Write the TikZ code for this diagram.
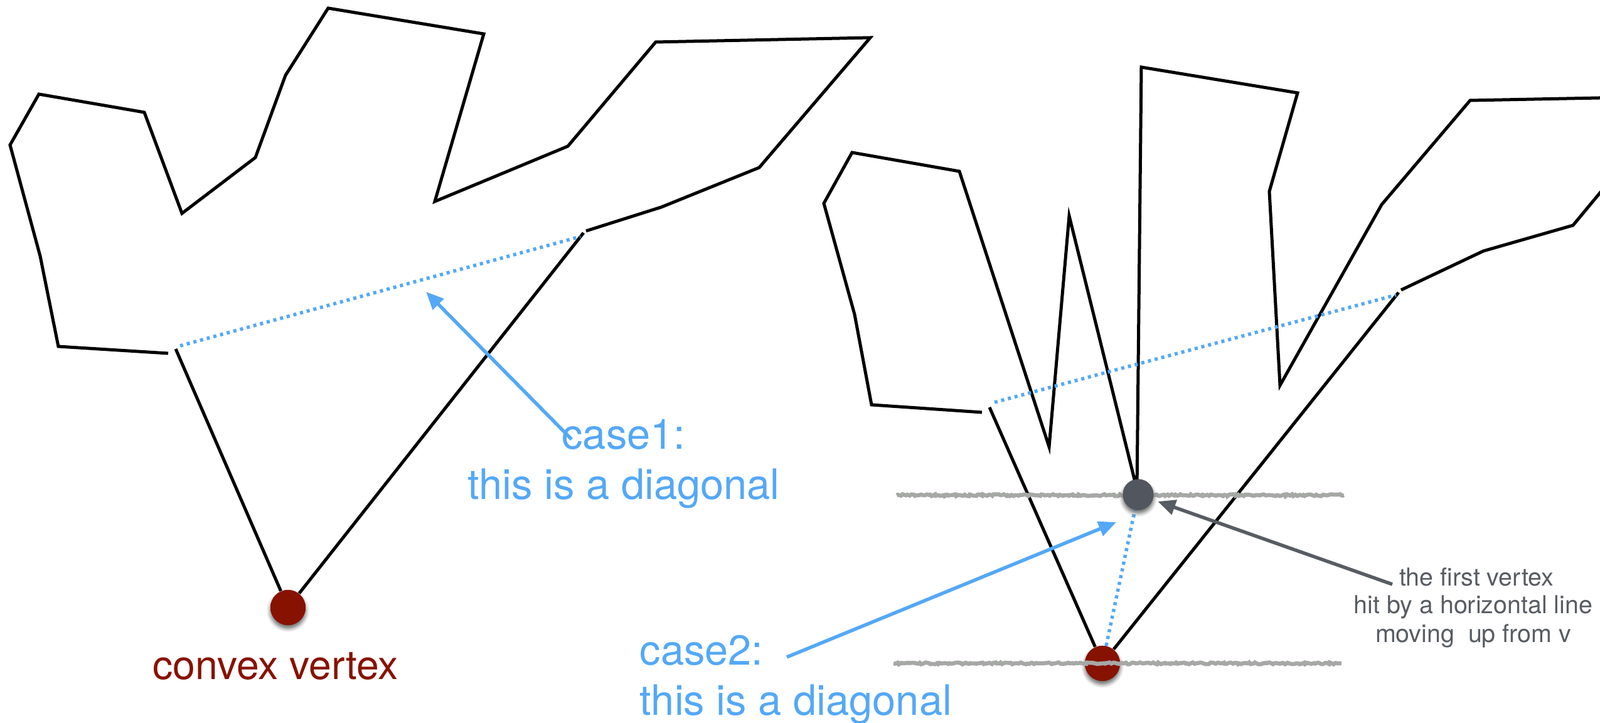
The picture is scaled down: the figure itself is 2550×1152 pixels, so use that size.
\documentclass[tikz,border=0pt]{standalone}
\usepackage{fontspec}
\setmainfont{TeX Gyre Heros}
\usetikzlibrary{arrows.meta,shadows.blur,decorations.pathmorphing}
\definecolor{diagblue}{RGB}{84,168,246}
\definecolor{vred}{RGB}{135,18,0}
\definecolor{vgrey}{RGB}{82,86,94}
\definecolor{hgrey}{RGB}{166,168,166}
\definecolor{tgrey}{RGB}{88,92,99}
\begin{document}
\begin{tikzpicture}[x=0.01cm,y=-0.01cm,
  poly/.style={line width=0.05cm, black, line join=miter},
  diag/.style={line width=0.055cm, diagblue, dash pattern=on 0.05cm off 0.06cm},
  vshadow/.style={blur shadow={shadow xshift=0cm, shadow yshift=-0.05cm, shadow blur radius=0.06cm, shadow opacity=35}},
  reddot/.style={circle, inner sep=0pt, minimum size=0.56cm, fill=vred, vshadow},
  greydot/.style={circle, inner sep=0pt, minimum size=0.49cm, fill=vgrey, vshadow},
  sweep/.style={line width=0.065cm, hgrey, decorate, decoration={random steps, segment length=0.03cm, amplitude=0.015cm}},
  barrow/.style={line width=0.055cm, diagblue, -{Triangle[length=0.28cm,width=0.24cm]}},
  garrow/.style={line width=0.055cm, tgrey, -{Triangle[length=0.28cm,width=0.24cm]}},
  bluetext/.style={inner sep=0pt, text=diagblue, font=\fontsize{19pt}{23pt}\selectfont},
  redtext/.style={inner sep=0pt, text=vred, font=\fontsize{18.3pt}{22pt}\selectfont},
  greytext/.style={inner sep=0pt, text=tgrey, font=\fontsize{11.2pt}{13pt}\selectfont}
]
\useasboundingbox (0,0) rectangle (2550,1152);
\clip (0,0) rectangle (2550,1152);

% ---------- left polygon ----------
\node[reddot] (v) at (459,968) {};
\draw[poly] (268,563) -- (93,552) -- (64,408) -- (16,231) -- (62,150) -- (230,179)
  -- (290,340) -- (407,251) -- (455,120) -- (523,13) -- (771,54) -- (693,321)
  -- (905,233) -- (1045,67) -- (1387,60) -- (1210,267) -- (1054,330) -- (934,368);
\draw[poly] (280,556) -- (v);
\draw[poly] (930,371) -- (v);
\draw[diag] (287,551) -- (925,377);
\node[reddot] at (v) {};

% ---------- right polygon ----------
\node[reddot] (v2) at (1757,1057) {};
\node[greydot] (u) at (1814,788) {};
\draw[poly] (1565,657) -- (1389,645) -- (1362,501) -- (1313,324) -- (1358,243)
  -- (1529,273) -- (1672,712) -- (1704,344) -- (1812,780) -- (1819,107)
  -- (2068,148) -- (2023,305) -- (2040,614) -- (2202,326) -- (2343,160) -- (2600,155);
\draw[poly] (2600,247) -- (2507,359) -- (2364,400) -- (2233,462);
\draw[poly] (1577,649) -- (v2);
\draw[poly] (2229,466) -- (v2);
\draw[diag] (1585,641) -- (2225,470);
\draw[diag] (v2) -- (u);
\node[reddot] at (v2) {};
\draw[sweep] (1429,789) -- (2142,789);
\draw[sweep] (1424,1057) -- (2138,1057);
\node[greydot] at (u) {};

% ---------- texts ----------
\node[redtext, anchor=base] (cv) at (439,1083) {convex vertex};
\node[bluetext, anchor=base] (case1) at (994,716) {case1:};
\node[bluetext, anchor=base] (case1b) at (994,796) {this is a diagonal};
\node[bluetext, anchor=base west] (case2) at (1019,1059) {case2:};
\node[bluetext, anchor=base west] (case2b) at (1019,1139) {this is a diagonal};
\node[greytext, anchor=base] (g1) at (2353,933) {the first vertex};
\node[greytext, anchor=base] (g2) at (2348,978) {hit by a horizontal line};
\node[greytext, anchor=base] (g3) at (2348,1024) {moving~~up from v};

% ---------- arrows ----------
\coordinate (c1s) at (911,700);
\coordinate (d1m) at (679,465);
\coordinate (c2s) at (1254,1047);
\coordinate (d2m) at (1779,832);
\coordinate (gs) at (2219,931);
\draw[barrow] (c1s) -- (d1m);
\draw[barrow] (c2s) -- (d2m);
\draw[garrow, shorten >=0.08cm] (gs) -- (u);
\end{tikzpicture}
\end{document}
